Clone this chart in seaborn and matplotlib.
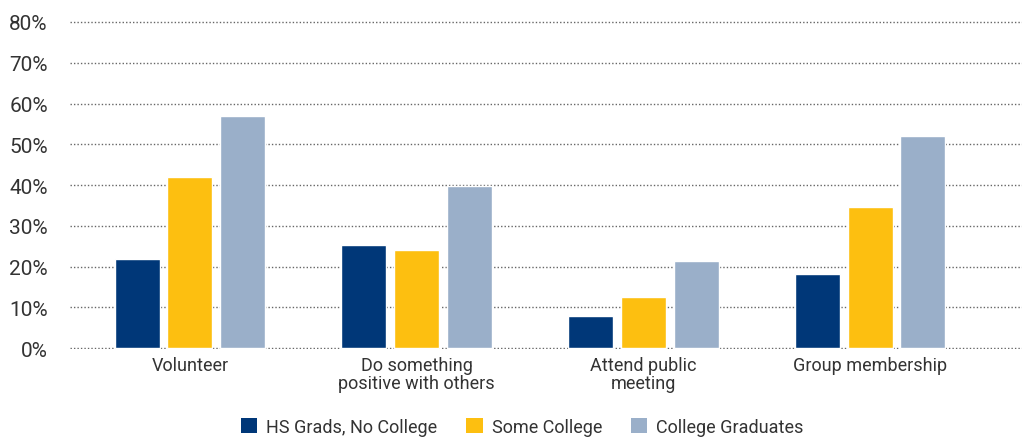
import matplotlib
matplotlib.use("Agg")
import matplotlib.pyplot as plt
from matplotlib.patches import Patch
from matplotlib.ticker import PercentFormatter
import pandas as pd
import seaborn as sns

categories = ["Volunteer", "Do something\npositive with others", "Attend public\nmeeting", "Group membership"]
groups = ["HS Grads, No College", "Some College", "College Graduates"]
hs_grads = [21.8, 25.2, 7.9, 18.1]
some_college = [42.0, 24.2, 12.5, 34.7]
college_grads = [56.9, 39.8, 21.5, 52.0]
colors = ["#003778", "#FDBF10", "#9AAFC9"]

df = pd.DataFrame({
    "category": categories * 3,
    "group": [g for g in groups for _ in categories],
    "value": hs_grads + some_college + college_grads,
})

sns.set_theme(style="white")
plt.rcParams["font.family"] = ["Roboto", "DejaVu Sans"]
text_color = "#333333"

fig = plt.figure(figsize=(10.24, 4.39), dpi=100)
ax = fig.add_axes([0.0684, 0.2016, 0.9296, 0.7554])

sns.barplot(data=df, x="category", y="value", hue="group", hue_order=groups,
            order=categories, palette=colors, width=0.7, gap=0.15,
            saturation=1, legend=False, ax=ax)

ax.set_xlim(-0.529, 3.67)
ax.set_ylim(-0.3, 81)
ax.set_yticks(range(0, 81, 10))
ax.yaxis.set_major_formatter(PercentFormatter(decimals=0))
ax.grid(axis="y", linestyle=(0, (1, 1.5)), color="#666666", linewidth=1.0)
ax.set_axisbelow(True)
for s in ax.spines.values():
    s.set_visible(False)
ax.set_xlabel("")
ax.set_ylabel("")
ax.tick_params(axis="y", length=0, pad=16, labelsize=15, labelcolor=text_color)
ax.tick_params(axis="x", length=0, pad=5, labelsize=13, labelcolor=text_color)
for lbl in ax.get_xticklabels():
    lbl.set_linespacing(1.0)

handles = [Patch(facecolor=c, edgecolor="none", label=g) for c, g in zip(colors, groups)]
fig.legend(handles=handles, loc="center", bbox_to_anchor=(0.510, 0.025), ncol=3,
           frameon=False, fontsize=13, handlelength=0.9, handleheight=0.9,
           handletextpad=0.5, columnspacing=1.6, labelcolor=text_color)

fig.savefig("out.png", dpi=100)
